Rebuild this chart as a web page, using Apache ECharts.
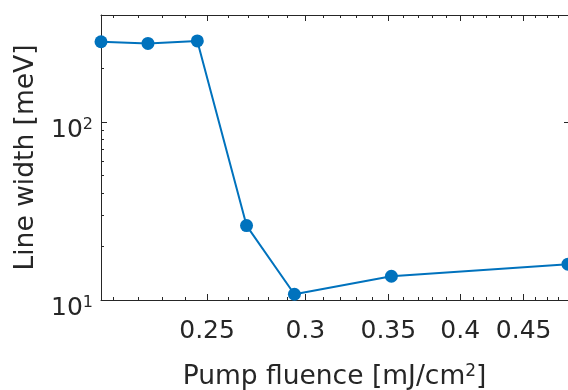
<!DOCTYPE html>
<html>
<head>
<meta charset="utf-8">
<script src="https://cdn.jsdelivr.net/npm/echarts@6/dist/echarts.min.js"></script>
<style>
  html, body { margin: 0; padding: 0; background: #fff; }
  #chart { width: 568px; height: 390px; }
</style>
</head>
<body>
<div id="chart"></div>
<script>
// data
const fluence = [0.2053, 0.224, 0.2455, 0.269, 0.294, 0.352, 0.4886];
const lineWidth = [283, 277, 286, 26.2, 10.77, 13.6, 15.9];

// axis ticks
const xMajorTicks = [0.25, 0.3, 0.35, 0.4, 0.45];
const xMinorTicks = [0.21, 0.22, 0.23, 0.24, 0.26, 0.27, 0.28, 0.29, 0.31, 0.32, 0.33, 0.34,
                     0.36, 0.37, 0.38, 0.39, 0.41, 0.42, 0.43, 0.44, 0.46, 0.47, 0.48];
const yMajorTicks = [10, 100];
const yMinorTicks = [20, 30, 40, 50, 60, 70, 80, 90, 200, 300];

const xMin = 0.2053, xMax = 0.4886;
const yMin = 10, yMax = 400;

const ink = '#262626';
const font = 'DejaVu Sans';

// one helper for the stacked tick-only axes (box look)
function xAx(pos, ticks, len, showLine, showLabel) {
    return {
        type: 'log', position: pos, min: xMin, max: xMax,
        axisLine: { show: showLine, lineStyle: { color: ink, width: 1 } },
        axisTick: { show: true, inside: true, length: len, customValues: ticks, lineStyle: { color: ink } },
        axisLabel: showLabel ? {
            customValues: ticks, color: ink, fontFamily: font, fontSize: 25, margin: 19,
            formatter: v => String(+v.toFixed(2))
        } : { show: false },
        splitLine: { show: false }, minorTick: { show: false }
    };
}
function yAx(pos, ticks, len, showLine, showLabel) {
    return {
        type: 'log', position: pos, min: yMin, max: yMax,
        axisLine: { show: showLine, lineStyle: { color: ink, width: 1 } },
        axisTick: { show: true, inside: true, length: len, customValues: ticks, lineStyle: { color: ink } },
        axisLabel: showLabel ? {
            customValues: ticks, color: ink, fontFamily: font, fontSize: 25, margin: 8,
            padding: [16, 0, 0, 0],
            formatter: v => '10{sup|' + Math.round(Math.log10(v)) + '}',
            rich: { sup: { fontSize: 16, fontFamily: font, color: ink, padding: [0, 0, 11, 0] } }
        } : { show: false },
        splitLine: { show: false }, minorTick: { show: false }
    };
}

const chart = echarts.init(document.getElementById('chart'));

const xMain = xAx('bottom', xMajorTicks, 6, true, true);
xMain.name = 'Pump fluence [mJ/cm{sup|2}]';
xMain.nameLocation = 'middle';
xMain.nameGap = 63;
xMain.nameTextStyle = {
    color: ink, fontFamily: font, fontSize: 26.5,
    rich: { sup: { fontSize: 17, fontFamily: font, color: ink, padding: [0, 0, 12, 0] } }
};

const yMain = yAx('left', yMajorTicks, 6, true, true);
yMain.name = 'Line width [meV]';
yMain.nameLocation = 'middle';
yMain.nameGap = 61;
yMain.nameTextStyle = { color: ink, fontFamily: font, fontSize: 26.5 };

chart.setOption({
    animation: false,
    grid: { left: 101, right: 0, top: 15, bottom: 90, outerBoundsMode: 'none' },
    xAxis: [
        xMain,
        xAx('bottom', xMinorTicks, 3, false, false),
        xAx('top', xMajorTicks, 6, true, false),
        xAx('top', xMinorTicks, 3, false, false)
    ],
    yAxis: [
        yMain,
        yAx('left', yMinorTicks, 3, false, false),
        yAx('right', [100], 4, false, false)
    ],
    series: [{
        type: 'line',
        data: fluence.map((f, i) => [f, lineWidth[i]]),
        xAxisIndex: 0, yAxisIndex: 0,
        symbol: 'circle', symbolSize: 13,
        itemStyle: { color: '#0072BD' },
        lineStyle: { color: '#0072BD', width: 2 }
    }]
});
</script>
</body>
</html>
